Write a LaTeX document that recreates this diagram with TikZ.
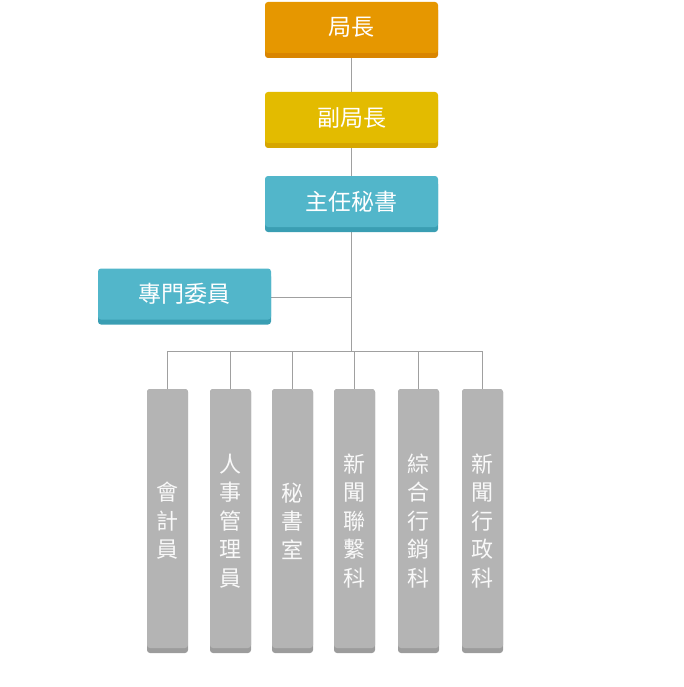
\documentclass[tikz,border=0pt]{standalone}
\usepackage{fontspec}
\newfontfamily\cjk{Noto Sans CJK TC}
\usetikzlibrary{shadows,backgrounds}

\definecolor{orangebox}{HTML}{E69700}
\definecolor{orangedark}{HTML}{D98500}
\definecolor{yellowbox}{HTML}{E3BB00}
\definecolor{yellowdark}{HTML}{D6A600}
\definecolor{tealbox}{HTML}{52B6CA}
\definecolor{tealdark}{HTML}{3A9EB3}
\definecolor{graybox}{HTML}{B4B4B4}
\definecolor{graydark}{HTML}{9C9C9C}
\definecolor{linegray}{HTML}{A0A0A0}

\tikzset{
  post/.style 2 args={rectangle, rounded corners=3pt, fill=#1,
    general shadow={fill=#2, shadow yshift=-5pt},
    minimum width=173pt, minimum height=51pt, inner sep=0pt,
    text=white, font=\cjk\fontsize{23}{28}\selectfont},
  section/.style={rectangle, rounded corners=3pt, fill=graydark,
    path picture={\fill[graybox, rounded corners=3pt]
      (path picture bounding box.north west) rectangle
      ([yshift=5pt]path picture bounding box.south east);},
    minimum width=41pt, minimum height=264pt, inner sep=0pt,
    text=white!95!gray, align=center, font=\cjk\fontsize{22}{28.5}\selectfont},
  link/.style={draw=linegray, line width=0.8pt}
}

\begin{document}
\begin{tikzpicture}[x=1pt,y=-1pt]
    \useasboundingbox (0,0) rectangle (683,687);
    \node[post={orangebox}{orangedark}] (director) at (351.5,27.5) {局長};
    \node[post={yellowbox}{yellowdark}] (deputy) at (351.5,117.5) {副局長};
    \node[post={tealbox}{tealdark}] (chief) at (351.5,201.5) {主任秘書};
    \node[post={tealbox}{tealdark}] (expert) at (184.5,294) {專門委員};
    \coordinate (bus) at (351.5,351);

    \node[section] (acct) at (167.5,521) {會\\計\\員};
    \node[section] (hr) at (230.5,521) {人\\事\\管\\理\\員};
    \node[section] (secr) at (292.5,521) {秘\\書\\室};
    \node[section] (press) at (354.5,521) {新\\聞\\聯\\繫\\科};
    \node[section] (market) at (418.5,521) {綜\\合\\行\\銷\\科};
    \node[section] (admin) at (482.5,521) {新\\聞\\行\\政\\科};

    \begin{scope}[on background layer]
      \draw[link] (director) -- (deputy);
      \draw[link] (deputy) -- (chief);
      \draw[link] (chief) -- (bus);
      \draw[link] ([yshift=-3pt]expert.east) -- ([yshift=-3pt]expert.east -| bus);
      \foreach \s in {acct,hr,secr,press,market,admin}
        \draw[link] (bus) -| (\s.north);
    \end{scope}
\end{tikzpicture}
\end{document}
